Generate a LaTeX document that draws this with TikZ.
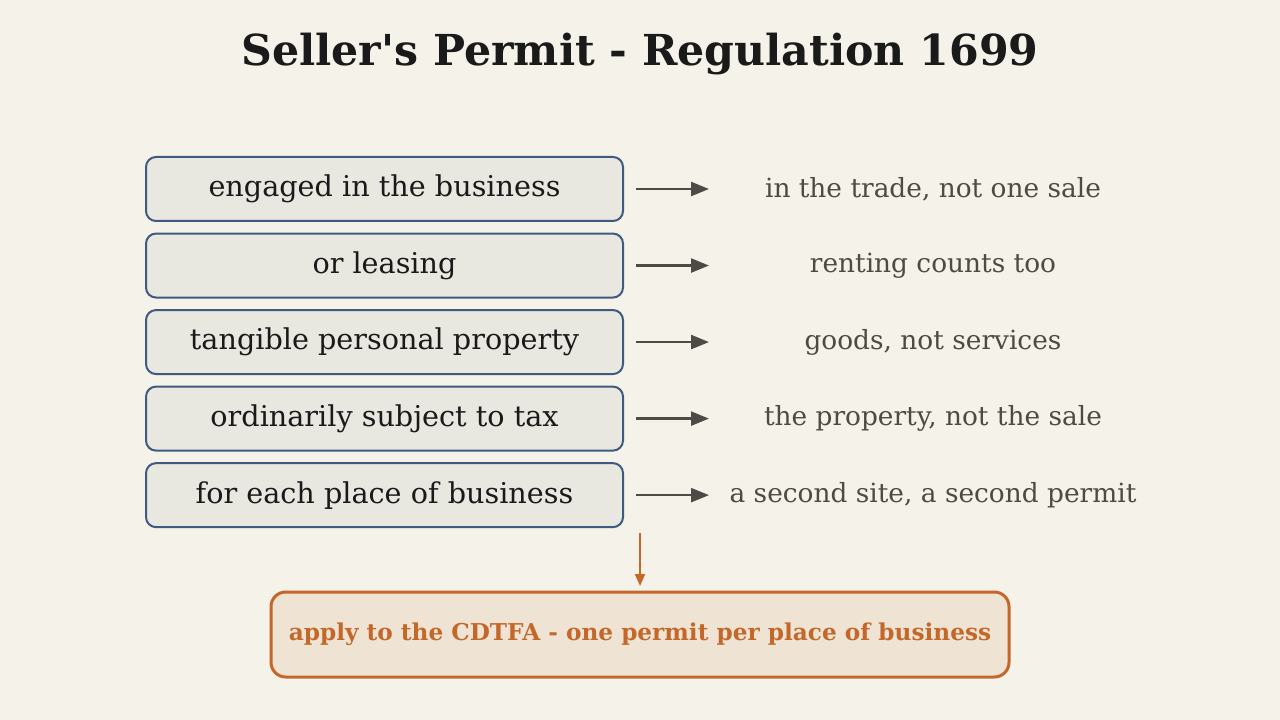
\documentclass[tikz,border=0pt]{standalone}
\usepackage{fontspec}
\setmainfont{DejaVu Serif}
\usepackage{tikz}
\usetikzlibrary{positioning}
\usetikzlibrary{arrows.meta}

\definecolor{paper}{HTML}{F5F2EA}
\definecolor{boxfill}{HTML}{E8E7E0}
\definecolor{boxline}{HTML}{3F5A80}
\definecolor{ink}{HTML}{1A1A1A}
\definecolor{grayink}{HTML}{4F4A44}
\definecolor{arrowgray}{HTML}{4D4B45}
\definecolor{rust}{HTML}{C4682A}
\definecolor{rustfill}{HTML}{EFE3D4}

\begin{document}
\begin{tikzpicture}[x=0.75pt, y=-0.75pt,
            crit/.style={draw=boxline, fill=boxfill, line width=1.5pt, rounded corners=7.5pt,
            minimum width=357.75pt, minimum height=48pt, inner sep=0pt, outer sep=0pt, text=ink,
            font=\fontsize{21.5}{26}\selectfont, node distance=9.4pt},
            note/.style={minimum width=336pt, inner sep=0pt, outer sep=0pt, text=grayink,
            font=\fontsize{19.8}{24}\selectfont},
            link/.style={draw=arrowgray, line width=1.8pt, shorten <=9.75pt,
            -{Triangle[length=13.5pt, width=10.5pt]}}]
        \useasboundingbox[fill=paper] (0,0) rectangle (1280,720);
        \node[font=\bfseries\fontsize{32}{38}\selectfont, text=ink] (title) at (640,54) {Seller\textquotesingle s Permit - Regulation 1699};

        \node[crit] (engaged) at (384.5,189) {engaged in the business};
        \node[crit] (leasing) [below=of engaged] {or leasing};
        \node[crit] (tangible) [below=of leasing] {tangible personal property};
        \node[crit] (taxable) [below=of tangible] {ordinarily subject to tax};
        \node[crit] (place) [below=of taxable] {for each place of business};

        \node[note] (trade) [right=64.5pt of engaged] {in the trade, not one sale};
        \node[note] (renting) [right=64.5pt of leasing] {renting counts too};
        \node[note] (goods) [right=64.5pt of tangible] {goods, not services};
        \node[note] (property) [right=64.5pt of taxable] {the property, not the sale};
        \node[note] (site) [right=64.5pt of place] {a second site, a second permit};

        \node[draw=rust, fill=rustfill, line width=2.25pt, rounded corners=11pt,
            minimum width=553.5pt, minimum height=63.75pt, outer sep=0pt, text=rust,
            font=\bfseries\fontsize{17.4}{21}\selectfont] (apply) at (640,634.5)
            {apply to the CDTFA - one permit per place of business};

        \draw[link] (engaged) -- (trade);
        \draw[link] (leasing) -- (renting);
        \draw[link] (tangible) -- (goods);
        \draw[link] (taxable) -- (property);
        \draw[link] (place) -- (site);
        \draw[draw=rust, line width=1.5pt, shorten <=4.5pt, shorten >=4.5pt,
            -{Triangle[length=9pt, width=7.5pt]}] (apply.north |- place.south) -- (apply.north);
    \end{tikzpicture}
\end{document}
